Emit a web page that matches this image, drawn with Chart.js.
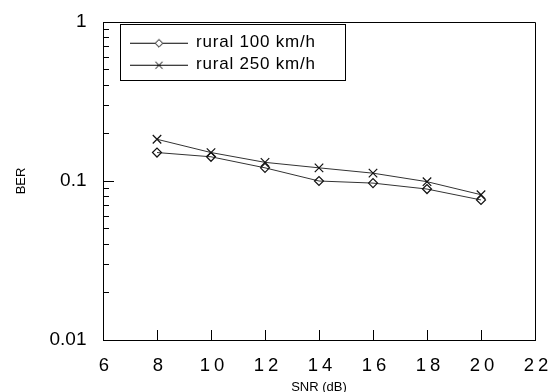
<!DOCTYPE html>
<html><head><meta charset="utf-8">
<script src="https://cdn.jsdelivr.net/npm/chart.js@4/dist/chart.umd.min.js"></script>
<style>html,body{margin:0;padding:0;background:#fff}canvas{display:block}</style>
</head><body>
<canvas id="c" width="555" height="392"></canvas>
<script>
// ---- data ----
const snr = [8, 10, 12, 14, 16, 18, 20];
const ber100 = [0.151, 0.142, 0.121, 0.100, 0.097, 0.089, 0.076];
const ber250 = [0.183, 0.151, 0.131, 0.121, 0.112, 0.099, 0.082];
const seriesNames = ['rural 100 km/h', 'rural 250 km/h'];
const xTicks = [6, 8, 10, 12, 14, 16, 18, 20, 22];
const yMajorTicks = [0.01, 0.1, 1];
const yMajorLabels = ['0.01', '0.1', '1'];
const yMinorTicks = [0.02, 0.03, 0.04, 0.05, 0.06, 0.07, 0.08, 0.09, 0.2, 0.3, 0.4, 0.5, 0.6, 0.7, 0.8, 0.9];
const xTitle = 'SNR (dB)';
const yTitle = 'BER';

const FONT = "'Liberation Sans', Arial, Helvetica, sans-serif";

function withSpacing(obj, method, spacing) {
  if (!obj || obj['__ls_' + method]) return;
  const orig = obj[method];
  obj[method] = function (...args) {
    const ctx = this.ctx;
    const prev = ctx.letterSpacing;
    ctx.letterSpacing = spacing;
    try { return orig.apply(this, args); } finally { ctx.letterSpacing = prev; }
  };
  obj['__ls_' + method] = true;
}

function makeSample(style) {
  const c = document.createElement('canvas');
  c.width = 58; c.height = 14;
  const g = c.getContext('2d');
  g.strokeStyle = '#000'; g.lineWidth = 1;
  g.beginPath(); g.moveTo(0, 7.5); g.lineTo(58, 7.5); g.stroke();
  const cx = 29, cy = 7.5;
  if (style === 'diamond') {
    const r = 3.8;
    g.fillStyle = '#fff';
    g.beginPath();
    g.moveTo(cx - r, cy); g.lineTo(cx, cy - r); g.lineTo(cx + r, cy); g.lineTo(cx, cy + r); g.closePath();
    g.fill(); g.stroke();
  } else {
    const r = 3.6;
    g.beginPath();
    g.moveTo(cx - r, cy - r); g.lineTo(cx + r, cy + r);
    g.moveTo(cx + r, cy - r); g.lineTo(cx - r, cy + r);
    g.stroke();
  }
  return c;
}
const samples = [makeSample('diamond'), makeSample('cross')];

function zeroPad(s) { s.paddingLeft = 0; s.paddingRight = 0; s.paddingTop = 0; s.paddingBottom = 0; }

const helperPlugin = {
  id: 'helper',
  afterLayout(chart) {
    const lg = chart.legend;
    if (lg) { lg.left = 125.5; lg.top = 29.2; }
  },
  beforeDraw(chart) {
    withSpacing(chart.legend, 'draw', '0.8px');
    withSpacing(chart.scales.x, 'drawLabels', '4px');
  },
  afterDraw(chart) {
    const ctx = chart.ctx;
    const a = chart.chartArea;
    ctx.save();
    ctx.strokeStyle = '#000';
    ctx.lineWidth = 1;
    ctx.beginPath();
    ctx.moveTo(a.left + 0.5, a.top + 0.5);
    ctx.lineTo(a.right + 0.5, a.top + 0.5);
    ctx.lineTo(a.right + 0.5, a.bottom + 0.5);
    ctx.stroke();
    // legend frame
    const hb = chart.legend.legendHitBoxes;
    if (hb && hb.length) {
      const x0 = Math.round(hb[0].left - 10.5) + 0.5;
      const y0 = Math.round(hb[0].top - 10.2) + 0.5;
      const last = hb[hb.length - 1];
      const y1 = Math.round(last.top + last.height + 6.8) + 0.5;
      ctx.strokeRect(x0, y0, 225, y1 - y0);
    }
    ctx.restore();
  }
};

new Chart(document.getElementById('c'), {
  type: 'line',
  data: {
    datasets: [
      {
        label: seriesNames[0],
        data: snr.map((x, i) => ({ x, y: ber100[i] })),
        borderColor: '#333', borderWidth: 1, tension: 0, fill: false,
        pointStyle: 'rectRot', pointRadius: 4.5, pointBorderWidth: 1.2,
        pointBorderColor: '#111', pointBackgroundColor: 'rgba(0,0,0,0)'
      },
      {
        label: seriesNames[1],
        data: snr.map((x, i) => ({ x, y: ber250[i] })),
        borderColor: '#333', borderWidth: 1, tension: 0, fill: false,
        pointStyle: 'crossRot', pointRadius: 6, pointBorderWidth: 1.2,
        pointBorderColor: '#111', pointBackgroundColor: 'rgba(0,0,0,0)'
      }
    ]
  },
  options: {
    responsive: false,
    animation: false,
    devicePixelRatio: 1,
    layout: { padding: { top: 22, right: 20, left: 0, bottom: 0 } },
    plugins: {
      tooltip: { enabled: false },
      legend: {
        position: 'chartArea',
        align: 'start',
        labels: {
          usePointStyle: true,
          pointStyleWidth: 57,
          boxWidth: 57,
          boxHeight: 11,
          padding: 5,
          color: '#000',
          font: { family: FONT, size: 17 },
          generateLabels(chart) {
            return chart.data.datasets.map((ds, i) => ({
              text: ds.label,
              datasetIndex: i,
              pointStyle: samples[i],
              fillStyle: '#fff', strokeStyle: '#000', lineWidth: 1,
              fontColor: '#000', hidden: false
            }));
          }
        }
      }
    },
    scales: {
      x: {
        type: 'linear', min: 6, max: 22,
        afterBuildTicks: s => { s.ticks = xTicks.map(v => ({ value: v })); },
        ticks: { font: { family: FONT, size: 18.5 }, color: '#000', padding: 25, labelOffset: 3, autoSkip: false, maxRotation: 0 },
        grid: { drawOnChartArea: false, tickLength: -10, tickColor: '#000', tickWidth: 1 },
        border: { display: true, color: '#000', width: 1 },
        title: { display: true, text: xTitle, color: '#000', font: { family: FONT, size: 13 }, padding: { top: 0, bottom: -3 } },
        afterFit: s => { s.height = 52; zeroPad(s); }
      },
      y: {
        type: 'logarithmic', min: 0.01, max: 1, position: 'left', weight: 1,
        afterBuildTicks: s => { s.ticks = yMajorTicks.concat(yMinorTicks).sort((a, b) => a - b).map(v => ({ value: v })); },
        ticks: {
          font: { family: FONT, size: 19 }, color: '#000', padding: 22.5, autoSkip: false,
          callback: v => { const i = yMajorTicks.indexOf(v); return i >= 0 ? yMajorLabels[i] : ''; }
        },
        grid: { drawOnChartArea: false, tickLength: -6, tickColor: '#000', tickWidth: 1 },
        border: { display: true, color: '#000', width: 1 },
        title: { display: true, text: yTitle, color: '#000', font: { family: FONT, size: 13 }, padding: { top: 14, bottom: 0 } },
        afterFit: s => { s.width = 103; zeroPad(s); }
      },
      y2: {
        type: 'logarithmic', min: 0.01, max: 1, position: 'left', weight: 0,
        afterBuildTicks: s => { s.ticks = [{ value: 0.1 }]; },
        ticks: { display: false },
        grid: { drawOnChartArea: false, tickLength: -11, tickColor: '#000', tickWidth: 1 },
        border: { display: false },
        afterFit: s => { s.width = 0; zeroPad(s); }
      }
    }
  },
  plugins: [helperPlugin]
});
</script>
</body></html>
